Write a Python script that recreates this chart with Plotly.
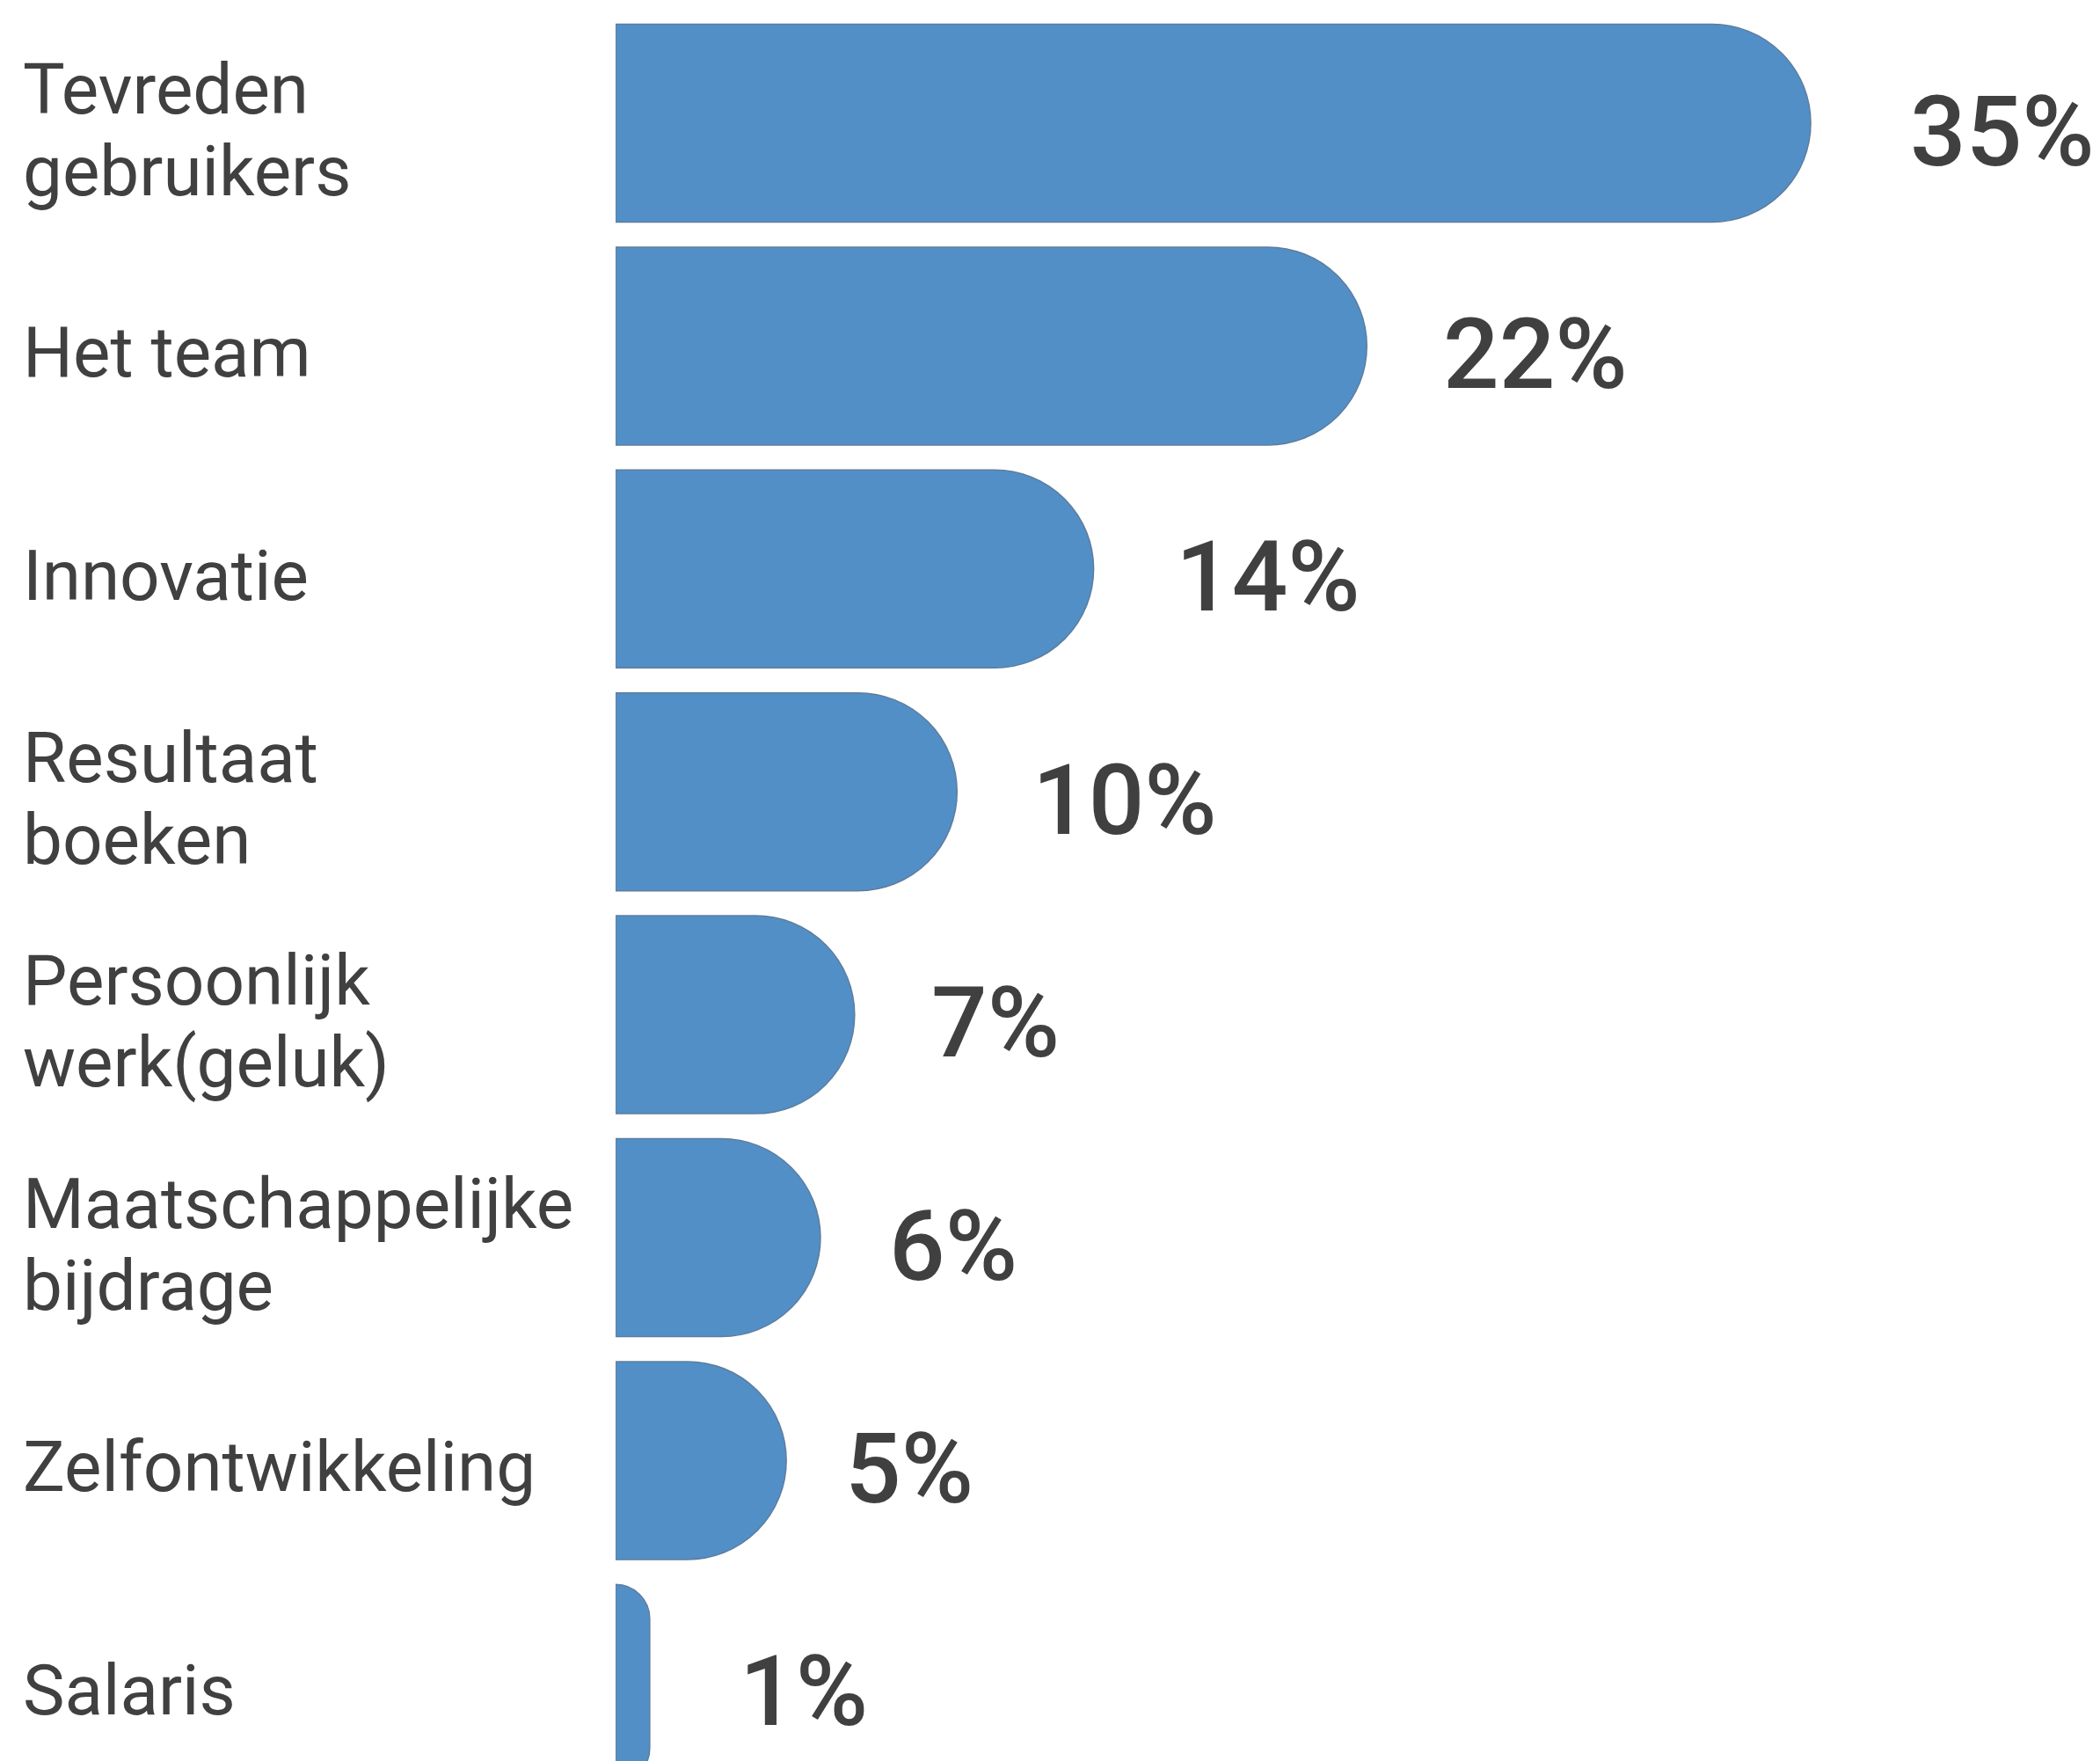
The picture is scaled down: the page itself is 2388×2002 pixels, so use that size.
import plotly.graph_objects as go

categories = [
    "Tevreden\ngebruikers",
    "Het team",
    "Innovatie",
    "Resultaat\nboeken",
    "Persoonlijk\nwerk(geluk)",
    "Maatschappelijke\nbijdrage",
    "Zelfontwikkeling",
    "Salaris",
]
values = [35, 22, 14, 10, 7, 6, 5, 1]
value_labels = ["35%", "22%", "14%", "10%", "7%", "6%", "5%", "1%"]

# small per-label horizontal nudges (px) of the value labels, as in the original layout
label_nudge = [23, -3, 3, -4, -3, -12, -23, 12]

W, H = 2388, 2002
LEFT = 700
PX_PER_UNIT = 38.83
PITCH = 253.4
FIRST_CENTER = 140
LINE_PITCH = 93
TEXT_DROP = 8

idx = list(range(len(categories)))

fig = go.Figure(
    go.Bar(
        x=values,
        y=idx,
        orientation="h",
        marker=dict(color="#528FC6", line=dict(color="#5E7D9E", width=1.5), cornerradius="50%"),
        hoverinfo="skip",
    )
)

plot_w = W - LEFT
x_max = plot_w / PX_PER_UNIT
y_top = -FIRST_CENTER / PITCH
y_bottom = y_top + H / PITCH

annotations = []
for i, (cat, v, lab, nd) in enumerate(zip(categories, values, value_labels, label_nudge)):
    lines = cat.split("\n")
    n = len(lines)
    for j, line in enumerate(lines):
        shift = ((n - 1) / 2 - j) * LINE_PITCH - TEXT_DROP
        annotations.append(dict(
            x=0, xref="paper", y=i, yref="y", text=line, showarrow=False,
            xanchor="left", yanchor="middle", xshift=24 - LEFT, yshift=shift,
            font=dict(family="Roboto", size=80, color="#404040"),
        ))
    annotations.append(dict(
        x=v, xref="x", y=i, yref="y", text=lab, showarrow=False,
        xanchor="left", yanchor="middle", xshift=88 + nd, yshift=-1 - TEXT_DROP,
        font=dict(family="Roboto", size=112, color="#404040", weight=500),
    ))

fig.update_layout(
    width=W, height=H,
    margin=dict(l=LEFT, r=0, t=0, b=0, pad=0),
    paper_bgcolor="white", plot_bgcolor="white",
    bargap=0.112,
    showlegend=False,
    xaxis=dict(range=[0, x_max], visible=False, fixedrange=True),
    yaxis=dict(range=[y_bottom, y_top], visible=False, fixedrange=True),
    annotations=annotations,
)

fig.write_html("out.html", config={"displayModeBar": False},
               post_script="document.body.style.margin='0';")
